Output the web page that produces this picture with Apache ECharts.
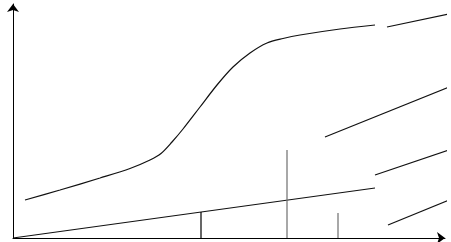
<!DOCTYPE html>
<html>
<head>
<meta charset="utf-8">
<script src="https://cdn.jsdelivr.net/npm/echarts@6/dist/echarts.min.js"></script>
<style>
html,body{margin:0;padding:0;background:#fff;}
#c{width:451px;height:242px;}
</style>
</head>
<body>
<div id="c"></div>
<script>
// Data (arbitrary units)
const mainCurve = [[12,38],[47,48],[87,60],[117,69.5],[137,78],[148,84.5],[159,96],[170,109],[187,131],[204,153],[220,171],[237,185],[254,195],[270,199.5],[287,203],[327,209],[362,213]];
const topRightSeg = [[374,211],[436,224]];
const midRightSeg = [[312,101],[436,151]];
const lowRightSeg = [[362,63],[436,88]];
const bottomRightSeg = [[375,13],[436,38]];
const baseLine = [[0,0],[362,50]];
const blackVertical = [[188,0],[188,26]];
const greyVerticalTall = [[274,0],[274,88]];
const greyVerticalShort = [[325,0],[325,25]];

const xMin = 0, xMax = 432, yMin = 0, yMax = 234;

function seg(data, color, width) {
  return {
    type: 'line', data: data, showSymbol: false, symbol: 'none', clip: false,
    lineStyle: { color: color, width: width }, silent: true, animation: false
  };
}
function curve(data) {
  const s = seg(data, '#111111', 1.2);
  s.smooth = 0.3;
  return s;
}

const chart = echarts.init(document.getElementById('c'));
chart.setOption({
  backgroundColor: '#ffffff',
  animation: false,
  grid: { left: 13, right: 6, top: 4, bottom: 4 },
  xAxis: {
    type: 'value', min: xMin, max: xMax,
    axisLine: { show: true, onZero: false, symbol: ['none', 'arrow'], symbolSize: [9, 8], lineStyle: { color: '#000', width: 1 } },
    axisTick: { show: false }, axisLabel: { show: false }, splitLine: { show: false }
  },
  yAxis: {
    type: 'value', min: yMin, max: yMax,
    axisLine: { show: true, onZero: false, symbol: ['none', 'arrow'], symbolSize: [9, 8], lineStyle: { color: '#000', width: 1 } },
    axisTick: { show: false }, axisLabel: { show: false }, splitLine: { show: false }
  },
  series: [
    curve(mainCurve),
    seg(topRightSeg, '#111111', 1.2),
    seg(midRightSeg, '#111111', 1.2),
    seg(lowRightSeg, '#111111', 1.2),
    seg(bottomRightSeg, '#111111', 1.2),
    seg(baseLine, '#111111', 1.2),
    seg(blackVertical, '#000000', 1.2),
    seg(greyVerticalTall, '#6e6e6e', 1.2),
    seg(greyVerticalShort, '#6e6e6e', 1.2)
  ]
});
</script>
</body>
</html>
